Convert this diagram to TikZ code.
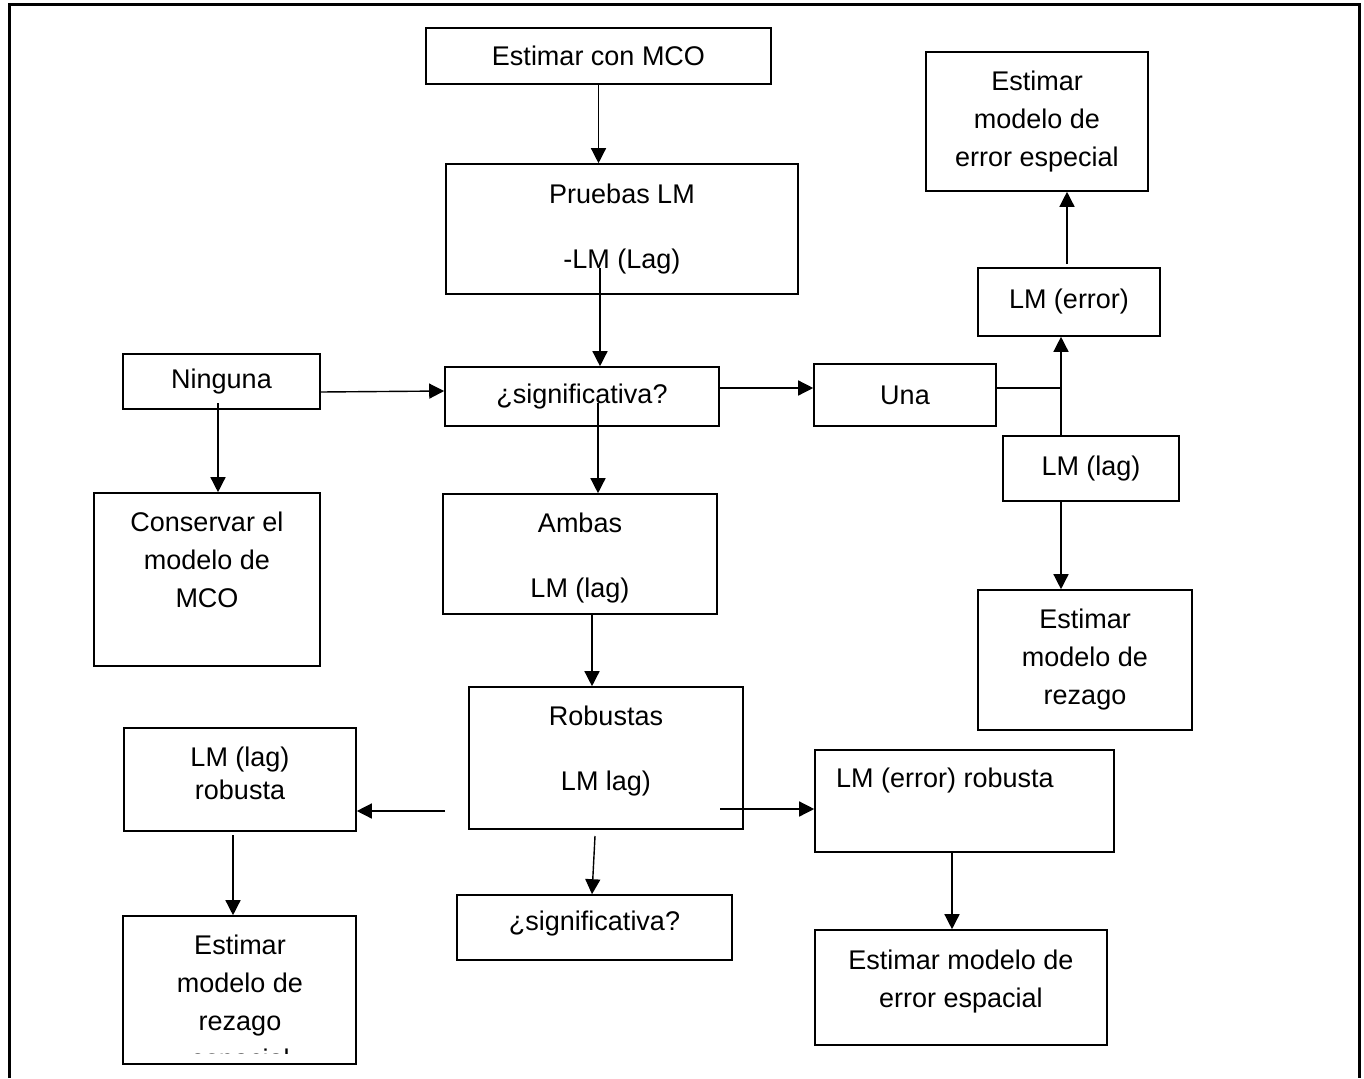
\documentclass[tikz,border=0pt]{standalone}
\usepackage{fontspec}
\setmainfont{Liberation Sans}
\usetikzlibrary{arrows.meta}

\begin{document}
\begin{tikzpicture}[x=1pt,y=-1pt,
  every node/.style={font=\fontsize{27}{38}\selectfont},
  box/.style={draw,line width=1.6pt,inner sep=0pt,align=center},
  txt/.style={inner sep=0pt,align=center},
  conn/.style={line width=1.4pt},
  arr/.style={conn,-{Triangle[length=15pt,width=15pt]}}]
\useasboundingbox (0,0) rectangle (1364,1078);
\draw[line width=3pt] (9,1078) -- (9,5) -- (1359,5) -- (1359,1078);
% centre column
\node[box,minimum width=345pt,minimum height=56pt] (mco) at (598.5,56) {Estimar con MCO};
\node[box,minimum width=352pt,minimum height=130pt] (pruebas) at (622,229) {Pruebas LM\\[27pt]-LM (Lag)};
\node[box,minimum width=274pt,minimum height=59pt] (sig1) at (582,396.5) {¿significativa?};
\node[box,minimum width=274pt,minimum height=120pt,text height=92pt] (ambas) at (580,554) {Ambas\\[27pt]LM (lag)};
\node[box,minimum width=274pt,minimum height=142pt,text depth=20pt] (robustas) at (606,758) {Robustas\\[27pt]LM lag)};
\node[box,minimum width=275pt,minimum height=65pt,text depth=13.5pt] (sig2) at (594.5,927.5) {¿significativa?};
% left column
\node[box,minimum width=197pt,minimum height=55pt] (ninguna) at (221.5,381.5) {Ninguna};
\node[box,minimum width=226pt,minimum height=173pt] (conservar) at (207,579.5) {};
\node[txt,anchor=north] (conservarTxt) at (207,512) {Conservar el\\modelo de\\MCO};
\node[box,minimum width=232pt,minimum height=103pt,text depth=12pt,
  font=\fontsize{27}{33}\selectfont] (lmLagRob) at (240,779.5) {LM (lag)\\robusta};
\node[box,minimum width=233pt,minimum height=148pt] (rezagoEsp) at (239.5,990) {};
\begin{scope}
\clip (123,916) rectangle (356,1053);
\node[txt,anchor=north] (rezagoEspTxt) at (240,935) {Estimar\\modelo de\\rezago\\espacial};
\end{scope}
% right column
\node[box,minimum width=222pt,minimum height=139pt] (errEspecial) at (1037,121.5) {Estimar\\modelo de\\error especial};
\node[box,minimum width=182pt,minimum height=68pt] (lmError) at (1069,302) {LM (error)};
\node[box,minimum width=182pt,minimum height=62pt] (una) at (905,395) {Una};
\node[box,minimum width=176pt,minimum height=65pt] (lmLag) at (1091,468.5) {LM (lag)};
\node[box,minimum width=214pt,minimum height=140pt] (rezago) at (1085,660) {Estimar\\modelo de\\rezago};
\node[box,minimum width=299pt,minimum height=102pt] (lmErrRob) at (964.5,801) {};
\node[txt,anchor=base west] (lmErrRobTxt) at (836,787) {LM (error) robusta};
\node[box,minimum width=292pt,minimum height=115pt,text depth=17pt] (errEsp) at (961,987.5) {Estimar modelo de\\error espacial};
% loose ends of the connectors
\coordinate (p1) at (600,268);
\coordinate (s1) at (598,403);
\coordinate (n1) at (218,403);
\coordinate (jn) at (1061,388);
\coordinate (e1) at (1067,264);
\coordinate (a1) at (592,614);
\coordinate (r1) at (445,811);
\coordinate (r2) at (720,809);
\coordinate (r3) at (595,836);
\coordinate (l1) at (233,835);
\coordinate (l2) at (952,852);
% connectors
\draw[arr] (mco.south) -- (mco.south |- pruebas.north);
\draw[arr] (p1) -- (p1 |- sig1.north);
\draw[arr] (s1) -- (s1 |- ambas.north);
\draw[arr] ([yshift=-10.5pt]ninguna.east) -- ([yshift=5.5pt]sig1.west);
\draw[arr] (n1) -- (n1 |- conservar.north);
\draw[arr] (sig1.east |- jn) -- (una.west |- jn);
\draw[conn] (una.east |- jn) -- (jn);
\draw[arr] (lmLag.north -| jn) -- (lmError.south -| jn);
\draw[arr] (e1) -- (e1 |- errEspecial.south);
\draw[arr] (lmLag.south -| jn) -- (rezago.north -| jn);
\draw[arr] (a1) -- (a1 |- robustas.north);
\draw[arr] (r1) -- (r1 -| lmLagRob.east);
\draw[arr] (r2) -- (r2 -| lmErrRob.west);
\draw[arr] (r3) -- ([xshift=-2.5pt]sig2.north);
\draw[arr] (l1) -- (l1 |- rezagoEsp.north);
\draw[arr] (l2) -- (l2 |- errEsp.north);
\end{tikzpicture}
\end{document}
